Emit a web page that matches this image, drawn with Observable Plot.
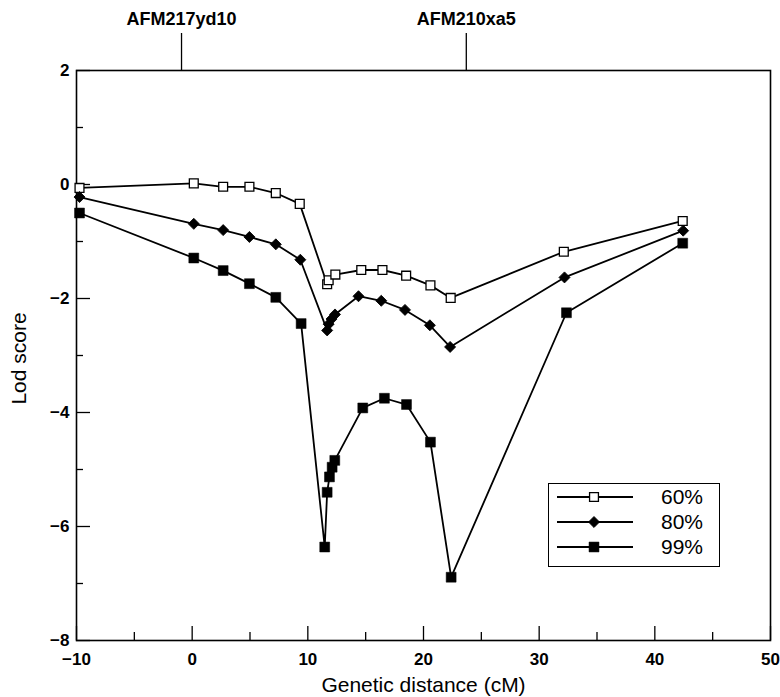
<!DOCTYPE html>
<html><head><meta charset="utf-8">
<script src="https://cdn.jsdelivr.net/npm/d3@7"></script>
<script src="https://cdn.jsdelivr.net/npm/@observablehq/plot@0.6"></script>
<style>
body{margin:0;background:#fff;}
#chart{position:relative;width:780px;height:697px;font-family:"Liberation Sans",Arial,sans-serif;}
#legend{position:absolute;left:548px;top:483px;width:170px;height:82px;border:1.5px solid #000;background:#fff;}
</style></head><body><div id="chart"></div>
<script>
// ---- data ----
const seriesNames = ["60%", "80%", "99%"];
const x60 = [-9.74, 0.14, 2.68, 4.95, 7.23, 9.3, 11.67, 11.8, 12.38, 14.62, 16.45, 18.5, 20.6, 22.35, 32.13, 42.41];
const y60 = [-0.06, 0.02, -0.04, -0.04, -0.15, -0.34, -1.75, -1.68, -1.58, -1.50, -1.50, -1.60, -1.77, -1.99, -1.18, -0.64];
const x80 = [-9.74, 0.14, 2.68, 4.95, 7.23, 9.35, 11.67, 11.8, 12.05, 12.35, 14.38, 16.35, 18.4, 20.55, 22.3, 32.19, 42.45];
const y80 = [-0.22, -0.69, -0.80, -0.92, -1.05, -1.32, -2.56, -2.45, -2.36, -2.28, -1.96, -2.04, -2.20, -2.47, -2.85, -1.63, -0.81];
const x99 = [-9.74, 0.14, 2.68, 4.95, 7.23, 9.42, 11.46, 11.67, 11.87, 12.1, 12.33, 14.75, 16.62, 18.53, 20.6, 22.39, 32.36, 42.41];
const y99 = [-0.50, -1.29, -1.51, -1.74, -1.98, -2.44, -6.36, -5.40, -5.13, -4.96, -4.84, -3.92, -3.75, -3.86, -4.52, -6.89, -2.25, -1.03];
const markerNames = ["AFM217yd10", "AFM210xa5"];
const markerPositions = [-0.92, 23.7];
const xMajorTicks = [-10, 0, 10, 20, 30, 40, 50];
const xMinorTicks = [-5, 5, 15, 25, 35, 45];
const yMajorTicks = [-8, -6, -4, -2, 0, 2];
const yMinorTicks = [-7, -5, -3, -1, 1];
const xLabel = "Genetic distance (cM)";
const yLabel = "Lod score";

// ---- layout ----
const W = 780, H = 697, mL = 76, mR = 10, mT = 70, mB = 57;
const innerW = W - mL - mR, innerH = H - mT - mB;
const fmt = d => (d < 0 ? "\u2212" + Math.abs(d) : String(d));

const styles = [
  {symbol: "square", fill: "white", r: 5, rotate: 0, strokeWidth: 1.3},
  {symbol: "square", fill: "black", r: 4.4, rotate: 45, strokeWidth: 0.8},
  {symbol: "square", fill: "black", r: 5.6, rotate: 0, strokeWidth: 0.5}
];
const seriesData = [[x60, y60], [x80, y80], [x99, y99]].map(([xs, ys], k) =>
  xs.map((x, i) => ({series: seriesNames[k], x, y: ys[i]})));
const rows = seriesData.flat();

const plot = Plot.plot({
  width: W, height: H,
  marginLeft: mL, marginRight: mR, marginTop: mT, marginBottom: mB,
  x: {domain: [-10, 50]},
  y: {domain: [-8, 2]},
  style: {fontFamily: '"Liberation Sans", Arial, sans-serif', background: "white", overflow: "visible"},
  marks: [
    Plot.frame({stroke: "black", strokeWidth: 1.6}),
    Plot.ruleX(xMajorTicks, {x: d => d, insetTop: innerH - 14, strokeWidth: 1.3}),
    Plot.ruleX(xMinorTicks, {x: d => d, insetTop: innerH - 8, strokeWidth: 1.3}),
    Plot.ruleY(yMajorTicks, {y: d => d, insetRight: innerW - 14, strokeWidth: 1.3}),
    Plot.ruleY(yMinorTicks, {y: d => d, insetRight: innerW - 7, strokeWidth: 1.3}),
    Plot.axisX({ticks: xMajorTicks, tickSize: 0, tickPadding: 12, tickFormat: fmt, fontSize: 17, fontWeight: "bold", label: null}),
    Plot.axisY({ticks: yMajorTicks, tickSize: 0, tickPadding: 7, tickFormat: fmt, fontSize: 17, fontWeight: "bold", label: null}),
    Plot.ruleX(markerPositions, {x: d => d, insetTop: -37, insetBottom: innerH, strokeWidth: 1.3}),
    Plot.text(markerNames, {x: (d, i) => markerPositions[i], text: d => d, frameAnchor: "top", lineAnchor: "middle", dy: -51, fontSize: 18, fontWeight: "bold"}),
    Plot.text([xLabel], {text: d => d, frameAnchor: "bottom", lineAnchor: "middle", textAnchor: "middle", dy: 45, fontSize: 21}),
    Plot.text([yLabel], {text: d => d, frameAnchor: "left", lineAnchor: "middle", textAnchor: "middle", dx: -57, dy: 3, rotate: -90, fontSize: 21}),
    Plot.line(rows, {x: "x", y: "y", z: "series", stroke: "black", strokeWidth: 1.8}),
    ...seriesData.map((data, k) => Plot.dot(data, {
      x: "x", y: "y", symbol: styles[k].symbol, r: styles[k].r, rotate: styles[k].rotate,
      fill: styles[k].fill, stroke: "black", strokeWidth: styles[k].strokeWidth
    }))
  ]
});
const chart = document.getElementById("chart");
chart.appendChild(plot);

// ---- legend ----
const legend = d3.select(chart).append("div").attr("id", "legend");
const lsvg = legend.append("svg").attr("width", 170).attr("height", 82);
seriesNames.forEach((name, k) => {
  const cy = 13 + k * 25;
  const g = lsvg.append("g");
  g.append("line").attr("x1", 8).attr("x2", 84).attr("y1", cy).attr("y2", cy).attr("stroke", "black").attr("stroke-width", 1.8);
  const st = styles[k];
  g.append("path")
    .attr("d", d3.symbol(d3.symbolSquare, Math.PI * st.r * st.r)())
    .attr("transform", `translate(45,${cy}) rotate(${st.rotate})`)
    .attr("fill", st.fill).attr("stroke", "black").attr("stroke-width", st.strokeWidth);
  g.append("text").attr("x", 112).attr("y", cy).attr("dy", "0.35em")
    .attr("font-size", 21).attr("font-family", '"Liberation Sans", Arial, sans-serif').text(name);
});
</script></body></html>
